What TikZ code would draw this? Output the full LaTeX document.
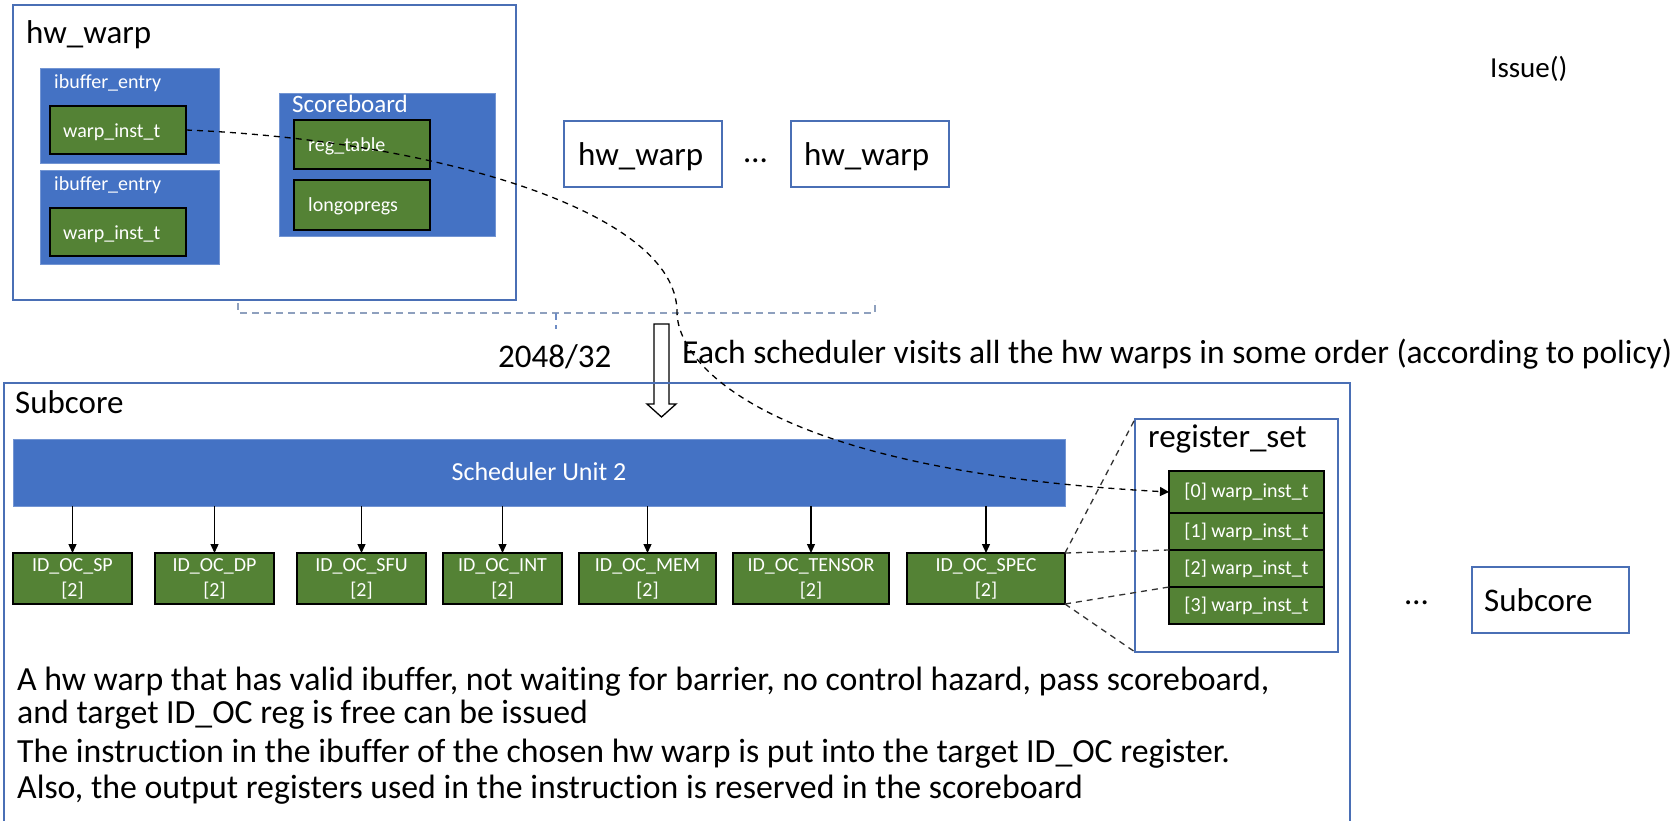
\documentclass[tikz,border=0pt]{standalone}
\usepackage{fontspec}
\setmainfont{Carlito}[Ligatures=NoCommon]
\usetikzlibrary{arrows.meta}
\definecolor{officeblue}{HTML}{4472C4}
\definecolor{officegreen}{HTML}{548235}
\definecolor{frameblue}{HTML}{4A6FB5}
\definecolor{bracegray}{HTML}{8EA0BE}
\newcommand\fsz[2]{\fontsize{#1}{#2}\selectfont}
% box from its corners: name, style, x1, y1, x2, y2, text
\newcommand\rbox[7]{\node[#2, minimum width={#5-#3}, minimum height={#6-#4}, inner sep=0pt, outer sep=0pt] (#1) at ({(#3+#5)/2},{(#4+#6)/2}) {#7};}
\begin{document}
\begin{tikzpicture}[x=1pt,y=-1pt,
  frame/.style={draw=frameblue, line width=1.3pt, fill=white},
  bluebox/.style={fill=officeblue, draw=officeblue!75!white, line width=1pt},
  greenbox/.style={fill=officegreen, draw=black, line width=1.5pt},
  txt/.style={inner sep=0pt, anchor=base west, text=black},
  wtxt/.style={inner sep=0pt, anchor=base west, text=white, font=\fsz{20}{24}},
  big/.style={font=\fsz{33}{40}},
  prose/.style={txt, font=\fsz{33.8}{40}},
  ocbox/.style={greenbox, text=white, align=center, font=\fsz{20}{25}},
  regcell/.style={greenbox, text=white, font=\fsz{20}{24}},
  feed/.style={line width=1.3pt, -{Triangle[length=9pt,width=8pt]}},
  zoomline/.style={draw=black!80, line width=1.3pt, dash pattern=on 6pt off 5pt},
  flow/.style={draw=black, line width=1.3pt, dash pattern=on 6pt off 5pt, -{Triangle[length=9pt,width=9pt]}},
  bracket/.style={draw=bracegray, line width=1.5pt, dash pattern=on 7pt off 5pt}]
\useasboundingbox (0,0) rectangle (1678,820);

% ---------------- hw_warp with its ibuffer and scoreboard ----------------
\rbox{hw}{frame}{13}{5}{516}{300}{}
\node[txt, big] (hwt) at (26,43) {hw\_warp};
\rbox{ib1}{bluebox}{40}{68}{219}{163}{}
\node[wtxt] (ib1t) at (54,88) {ibuffer\_entry};
\rbox{wi1}{greenbox}{50}{106}{186}{154}{}
\node[wtxt] (wi1t) at (63,137) {warp\_inst\_t};
\rbox{ib2}{bluebox}{40}{170}{219}{264}{}
\node[wtxt] (ib2t) at (54,190) {ibuffer\_entry};
\rbox{wi2}{greenbox}{50}{208}{186}{256}{}
\node[wtxt] (wi2t) at (63,239) {warp\_inst\_t};
\rbox{sb}{bluebox}{279}{93}{495}{236}{}
\node[wtxt, font=\fsz{25}{30}] (sbt) at (292,112) {Scoreboard};
\rbox{rt}{greenbox}{294}{120}{430}{169}{}
\node[wtxt] (rtt) at (308,151) {reg\_table};
\rbox{lo}{greenbox}{294}{180}{430}{230}{}
\node[wtxt] (lot) at (308,211) {longopregs};

% the other hw warps
\rbox{hwa}{frame}{564}{121}{722}{187}{}
\node[txt, big] (hwat) at (578,165) {hw\_warp};
\node[txt, big] (dotsa) at (744,162) {…};
\rbox{hwb}{frame}{791}{121}{949}{187}{}
\node[txt, big] (hwbt) at (804,165) {hw\_warp};
\node[txt, font=\fsz{29}{35}] (issue) at (1490,77) {Issue()};

% grouping bracket under the hw warps
\coordinate (brl) at (238,303);
\coordinate (brr) at (875,300);
\coordinate (brm) at (556,313);
\coordinate (brt) at (556,329);
\draw[bracket] (brl) -- (brl |- brm) -- (brr |- brm) -- (brr);
\draw[bracket, draw=frameblue!80] (brm) -- (brt);
\node[txt, big] (count) at (498,367) {2048/32};

% hollow block arrow into the subcore
\draw[line width=1.3pt, fill=white] (654,324) -- (669,324) -- (669,404) -- (676,404) -- (661.5,417) -- (647,404) -- (654,404) -- cycle;
\node[txt, font=\fsz{33.5}{40}] (visit) at (682,363) {Each scheduler visits all the hw warps in some order (according to policy)};

% ---------------- subcore ----------------
\draw[draw=frameblue, line width=1.3pt] (4,830) -- (4,383) -- (1350,383) -- (1350,830);
\node[txt, big] (subt) at (15,413) {Subcore};
\rbox{sch}{bluebox}{13}{439}{1065}{506}{}
\node[inner sep=0pt, text=white, font=\fsz{26}{30}] (scht) at (539,472) {Scheduler Unit 2};

\rbox{sp}{ocbox}{13}{553}{132}{604}{ID\_OC\_SP\\{}[2]}
\rbox{dp}{ocbox}{155}{553}{274}{604}{ID\_OC\_DP\\{}[2]}
\rbox{sfu}{ocbox}{297}{553}{426}{604}{ID\_OC\_SFU\\{}[2]}
\rbox{int}{ocbox}{443}{553}{562}{604}{ID\_OC\_INT\\{}[2]}
\rbox{mem}{ocbox}{579}{553}{716}{604}{ID\_OC\_MEM\\{}[2]}
\rbox{ten}{ocbox}{733}{553}{889}{604}{ID\_OC\_TENSOR\\{}[2]}
\rbox{spec}{ocbox}{907}{553}{1065}{604}{ID\_OC\_SPEC\\{}[2]}
\foreach \b in {sp,dp,sfu,int,mem,ten,spec}
  \draw[feed] (\b.north |- sch.south) -- (\b.north);

% register set of ID_OC_SPEC
\rbox{rs}{frame}{1135}{419}{1338}{652}{}
\node[txt, big] (rst) at (1148,447) {register\_set};
\rbox{r0}{regcell}{1169}{471}{1324}{513}{[0] warp\_inst\_t}
\rbox{r1}{regcell}{1169}{513}{1324}{550}{[1] warp\_inst\_t}
\rbox{r2}{regcell}{1169}{550}{1324}{587}{[2] warp\_inst\_t}
\rbox{r3}{regcell}{1169}{587}{1324}{624}{[3] warp\_inst\_t}
\draw[zoomline] (spec.north east) -- (rs.north west);
\draw[zoomline] (spec.north east) -- (r1.south west);
\draw[zoomline] (spec.south east) -- (r2.south west);
\draw[zoomline] (spec.south east) -- (rs.south west);

% the other subcores
\node[txt, big] (dotsb) at (1405,604) {…};
\rbox{subb}{frame}{1472}{567}{1629}{633}{}
\node[txt, big] (subbt) at (1484,611) {Subcore};

% issue conditions
\node[prose] (c1) at (17,690) {A hw warp that has valid ibuffer, not waiting for barrier, no control hazard, pass scoreboard,};
\node[prose] (c2) at (17,723) {and target ID\_OC reg is free can be issued};
\node[prose] (c3) at (17,762) {The instruction in the ibuffer of the chosen hw warp is put into the target ID\_OC register.};
\node[prose] (c4) at (17,798) {Also, the output registers used in the instruction is reserved in the scoreboard};

% issued instruction moves into the register set
\coordinate (bend) at (677,312);
\draw[flow] (wi1.east) .. controls (430,140) and (677,210) .. (bend)
  .. controls (677,362) and (760,470) .. (r0.west);
\end{tikzpicture}
\end{document}
